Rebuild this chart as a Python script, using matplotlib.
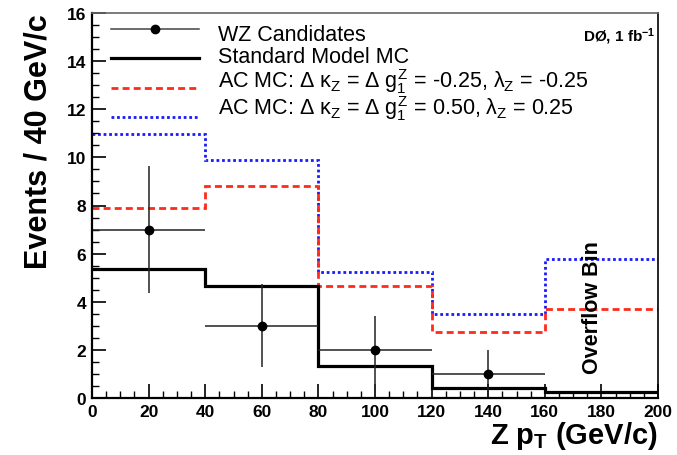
import numpy as np
import matplotlib
matplotlib.use("Agg")
import matplotlib.pyplot as plt
from matplotlib.ticker import MultipleLocator

plt.rcParams['font.family'] = ['Liberation Sans', 'DejaVu Sans']
plt.rcParams['mathtext.fontset'] = 'custom'
plt.rcParams['mathtext.rm'] = 'Liberation Sans'
plt.rcParams['mathtext.it'] = 'Liberation Sans'
plt.rcParams['mathtext.bf'] = 'Liberation Sans:bold'

# bin edges in Z pT (GeV/c), last bin is the overflow bin
edges = [0, 40, 80, 120, 160, 200]
sm_mc = [5.36, 4.64, 1.34, 0.40, 0.26]
ac_neg = [7.88, 8.81, 4.64, 2.76, 3.70]
ac_pos = [10.97, 9.88, 5.25, 3.50, 5.78]

# WZ candidates (data), sqrt(N) errors
data_x = [20, 60, 100, 140]
data_y = [7, 3, 2, 1]
data_xerr = [20, 20, 20, 20]
data_yerr = list(np.sqrt(data_y))

labels = [
    "WZ Candidates",
    "Standard Model MC",
    r"AC MC: $\Delta$ $\kappa_Z$ = $\Delta$ $g_1^Z$ = -0.25, $\lambda_Z$ = -0.25",
    r"AC MC: $\Delta$ $\kappa_Z$ = $\Delta$ $g_1^Z$ = 0.50, $\lambda_Z$ = 0.25",
]

RED = '#ff2a1a'
BLUE = '#1a1aff'

fig = plt.figure(figsize=(6.77, 4.56), dpi=100)
ax = fig.add_axes([92 / 677, 57 / 456, (658 - 92) / 677, (399 - 14) / 456])

ax.stairs(ac_pos, edges, baseline=None, color=BLUE, linestyle=(0, (1, 1)), linewidth=2.0)
ax.stairs(ac_neg, edges, baseline=None, color=RED, linestyle=(0, (2.5, 1.5)), linewidth=2.0)
ax.stairs(sm_mc, edges, baseline=None, color='black', linewidth=2.3)
ax.errorbar(data_x, data_y, xerr=data_xerr, yerr=data_yerr, fmt='o', color='black',
            ecolor='#222222', elinewidth=1.1, markersize=6, capsize=0)

ax.set_xlim(0, 200)
ax.set_ylim(0, 16)
ax.xaxis.set_major_locator(MultipleLocator(20))
ax.xaxis.set_minor_locator(MultipleLocator(5))
ax.yaxis.set_major_locator(MultipleLocator(2))
ax.yaxis.set_minor_locator(MultipleLocator(0.5))
ax.tick_params(which='major', direction='in', length=10, width=1.2, labelsize=12.5, pad=4)
ax.tick_params(which='minor', direction='in', length=5, width=1.0)
ax.tick_params(top=False, right=False, which='both')
for lab in ax.get_xticklabels() + ax.get_yticklabels():
    lab.set_fontweight('bold')

ax.spines['left'].set_linewidth(1.6)
ax.spines['bottom'].set_linewidth(1.6)
ax.spines['top'].set_color('#666666')
ax.spines['top'].set_linewidth(1.2)
ax.spines['right'].set_linewidth(1.2)

ax.set_ylabel("Events / 40 GeV/c", fontsize=22, fontweight='bold', loc='top', labelpad=10)
ax.set_xlabel(r"Z p$_\mathbf{T}$ (GeV/c)", fontsize=21, fontweight='bold', loc='right', labelpad=0)

ax.text(0.995, 0.968, r"DØ, 1 fb$^{\mathbf{-1}}$", transform=ax.transAxes, ha='right', va='top',
        fontsize=11, fontweight='bold')
ax.text(176.7, 3.82, "Overflow Bin", rotation=90, ha='center', va='center', fontsize=15.5,
        fontweight='bold')

# manual ROOT-style legend
line_y = [15.34, 14.12, 12.88, 11.68]
text_y = [14.88, 13.95, 12.92, 11.80]
x0, x1 = 6.7, 37.8
ax.plot([x0, x1], [line_y[0]] * 2, color='#444444', lw=1.1)
ax.plot([(x0 + x1) / 2], [line_y[0]], 'o', color='black', ms=6)
ax.plot([x0, x1], [line_y[1]] * 2, color='black', lw=2.3)
ax.plot([x0, x1], [line_y[2]] * 2, color=RED, lw=2.0, linestyle=(0, (2.5, 1.5)))
ax.plot([x0, x1], [line_y[3]] * 2, color=BLUE, lw=2.0, linestyle=(0, (1, 1)))
for y, lab in zip(text_y, labels):
    ax.text(44.5, y, lab, ha='left', va='baseline', fontsize=15.5)

fig.savefig("out.png", dpi=100)
